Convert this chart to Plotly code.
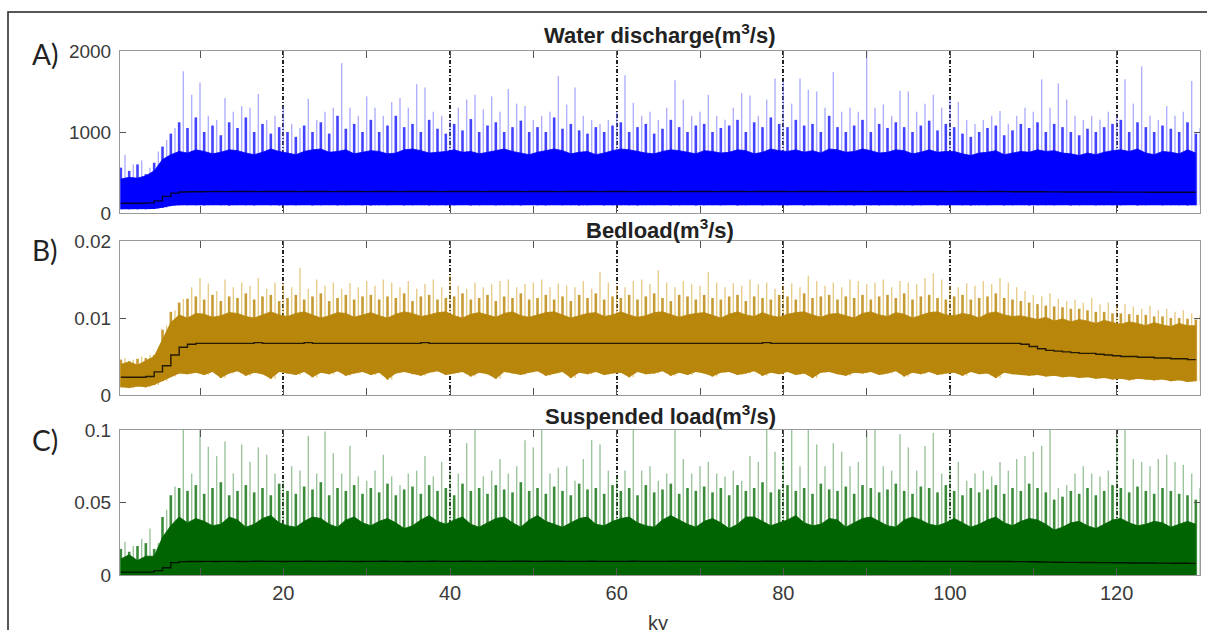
import plotly.graph_objects as go

# ---------------- data (one value per ky bin) ----------------
ky = [k + 0.5 for k in range(130)]          # bin centres, ky

A_peak = [720, 600, 650, 560, 760, 900, 1050, 1750, 1460, 1610,
          1200, 1150, 1420, 1250, 1320, 1300, 1470, 1150, 1200, 1320,
          1100, 1050, 1410, 1150, 1250, 1300, 1850, 1300, 1200, 1440,
          1300, 1200, 1370, 1420, 1300, 1590, 1550, 1250, 1200, 1150,
          1300, 1400, 1460, 1280, 1440, 1250, 1530, 1350, 1320, 1150,
          1200, 1250, 1690, 1340, 1550, 1200, 1150, 1100, 1150, 1250,
          1700, 1360, 1200, 1250, 1150, 1300, 1640, 1400, 1200, 1250,
          1460, 1200, 1150, 1300, 1480, 1450, 1200, 1400, 1660, 1630,
          1350, 1660, 1520, 1500, 1300, 1740, 1250, 1300, 1250, 2000,
          1300, 1340, 1200, 1510, 1500, 1250, 1350, 1460, 1300, 1410,
          1370, 1150, 1100, 1150, 1200, 1260, 1100, 1200, 1300, 1250,
          1650, 1300, 1600, 1400, 1200, 1150, 1200, 1150, 1250, 1200,
          1650, 1350, 1810, 1200, 1150, 1320, 1200, 1250, 1630, 1050]
A_sub = [560, 520, 600, 480, 620, 820, 980, 1120, 1050, 1180,
         1000, 1080, 960, 1120, 1050, 1180, 1000, 1100, 980, 1060,
         1000, 940, 1080, 1000, 1120, 980, 1200, 1040, 1100, 1000,
         1150, 1000, 1080, 1200, 1060, 1100, 1000, 1150, 1040, 980,
         1100, 1020, 1160, 1000, 1080, 1120, 1000, 1060, 1140, 1000,
         1060, 1000, 1180, 1040, 1100, 1020, 980, 1060, 1000, 1080,
         1120, 1000, 1060, 1100, 980, 1040, 1150, 1060, 1000, 1080,
         1100, 1000, 1050, 1080, 1150, 1000, 1120, 1060, 1180, 1100,
         1060, 1150, 1080, 1100, 1000, 1200, 1060, 1000, 1080, 1150,
         1000, 1100, 1050, 1120, 1060, 1000, 1080, 1140, 1020, 1100,
         1060, 980, 940, 1000, 1050, 1080, 960, 1020, 1100, 1050,
         1120, 1000, 1100, 1060, 1000, 960, 1040, 1000, 1060, 1100,
         1150, 1000, 1120, 1060, 1000, 1080, 1040, 1000, 1120, 980]
A_band = [420, 440, 430, 460, 520, 660, 720, 760, 740, 780,
          760, 730, 750, 780, 770, 740, 720, 750, 790, 760,
          740, 720, 760, 780, 790, 750, 760, 780, 730, 750,
          770, 760, 730, 740, 780, 790, 770, 740, 750, 760,
          780, 750, 760, 730, 750, 770, 790, 760, 740, 720,
          750, 770, 790, 770, 730, 750, 760, 720, 740, 770,
          790, 780, 760, 740, 730, 760, 780, 770, 750, 730,
          770, 760, 740, 750, 780, 770, 730, 750, 790, 770,
          760, 780, 750, 770, 740, 790, 780, 750, 760, 790,
          770, 740, 750, 780, 770, 730, 750, 780, 750, 760,
          760, 730, 710, 740, 750, 770, 720, 740, 760, 750,
          780, 760, 770, 740, 730, 710, 740, 720, 750, 770,
          780, 760, 790, 740, 720, 760, 750, 730, 780, 740]
A_low = [45, 45, 45, 45, 50, 65, 85, 95, 95, 95,
         92, 98, 95, 90, 97, 95, 93, 98, 95, 92,
         96, 94, 98, 92, 95, 97, 93, 95, 98, 94,
         92, 96, 95, 98, 93, 95, 97, 92, 96, 95,
         94, 98, 92, 95, 97, 93, 96, 95, 92, 98,
         95, 93, 97, 94, 96, 92, 95, 98, 93, 95,
         97, 94, 92, 96, 95, 98, 93, 95, 97, 92,
         95, 96, 94, 98, 92, 95, 97, 93, 96, 95,
         94, 98, 92, 95, 97, 93, 96, 95, 92, 98,
         95, 93, 97, 94, 96, 92, 95, 98, 93, 95,
         97, 94, 92, 96, 95, 98, 93, 95, 97, 92,
         95, 96, 94, 98, 92, 95, 97, 93, 96, 95,
         94, 98, 92, 95, 97, 93, 96, 95, 92, 95]
A_mean = [120, 120, 120, 125, 150, 205, 245, 260, 262, 263,
          264, 265, 264, 265, 266, 265, 264, 265, 266, 265,
          265, 264, 265, 266, 265, 264, 265, 266, 265, 264,
          265, 266, 265, 264, 265, 265, 266, 265, 264, 265,
          265, 266, 265, 264, 265, 266, 265, 265, 264, 265,
          266, 265, 264, 265, 265, 266, 265, 264, 265, 266,
          265, 264, 265, 265, 266, 265, 264, 265, 266, 265,
          265, 264, 265, 266, 265, 264, 265, 265, 266, 265,
          264, 265, 266, 265, 265, 264, 265, 266, 265, 264,
          265, 265, 266, 265, 264, 265, 266, 265, 265, 264,
          265, 266, 265, 264, 265, 265, 264, 263, 263, 262,
          262, 261, 261, 260, 260, 260, 259, 259, 259, 258,
          258, 258, 258, 257, 257, 257, 257, 256, 256, 256]

B_peak = [.0048, .0046, .0050, .0052, .0056, .0090, .0110, .0125, .0140, .0152,
          .0145, .0135, .0150, .0140, .0146, .0142, .0152, .0138, .0146, .0145,
          .0140, .0165, .0138, .0150, .0142, .0146, .0138, .0145, .0140, .0148,
          .0142, .0150, .0146, .0140, .0148, .0138, .0144, .0150, .0140, .0156,
          .0142, .0138, .0146, .0140, .0144, .0148, .0150, .0140, .0144, .0146,
          .0150, .0140, .0145, .0142, .0140, .0148, .0138, .0160, .0146, .0142,
          .0140, .0148, .0150, .0144, .0162, .0146, .0140, .0148, .0144, .0142,
          .0160, .0146, .0140, .0145, .0142, .0150, .0144, .0146, .0138, .0142,
          .0145, .0140, .0155, .0148, .0142, .0146, .0140, .0150, .0148, .0144,
          .0146, .0150, .0140, .0148, .0146, .0144, .0152, .0158, .0150, .0142,
          .0140, .0145, .0142, .0148, .0144, .0152, .0146, .0140, .0135, .0130,
          .0128, .0132, .0125, .0122, .0124, .0120, .0126, .0118, .0120, .0116,
          .0118, .0115, .0112, .0116, .0110, .0112, .0108, .0110, .0106, .0104]
B_sub = [.0046, .0044, .0047, .0048, .0052, .0085, .0108, .0120, .0125, .0128,
         .0124, .0130, .0122, .0128, .0126, .0132, .0124, .0128, .0130, .0122,
         .0126, .0130, .0124, .0128, .0132, .0122, .0126, .0130, .0124, .0128,
         .0130, .0124, .0128, .0126, .0132, .0122, .0128, .0130, .0124, .0126,
         .0128, .0132, .0124, .0126, .0130, .0122, .0128, .0126, .0132, .0124,
         .0126, .0130, .0124, .0128, .0122, .0130, .0126, .0132, .0124, .0128,
         .0126, .0130, .0124, .0128, .0132, .0126, .0122, .0130, .0128, .0124,
         .0130, .0126, .0124, .0128, .0130, .0122, .0128, .0126, .0124, .0130,
         .0128, .0124, .0132, .0126, .0128, .0130, .0124, .0128, .0126, .0130,
         .0124, .0128, .0130, .0126, .0132, .0124, .0128, .0130, .0126, .0124,
         .0128, .0130, .0124, .0126, .0128, .0132, .0126, .0124, .0122, .0120,
         .0118, .0116, .0115, .0114, .0112, .0112, .0110, .0108, .0108, .0106,
         .0106, .0105, .0104, .0104, .0102, .0102, .0100, .0100, .0099, .0098]
B_band = [.0040, .0043, .0039, .0044, .0050, .0072, .0094, .0104, .0100, .0106,
          .0105, .0101, .0103, .0107, .0106, .0102, .0100, .0104, .0108, .0104,
          .0102, .0106, .0108, .0104, .0100, .0103, .0107, .0106, .0101, .0104,
          .0107, .0103, .0100, .0105, .0108, .0106, .0102, .0104, .0107, .0108,
          .0103, .0100, .0105, .0107, .0104, .0101, .0106, .0108, .0103, .0101,
          .0104, .0107, .0108, .0104, .0100, .0103, .0106, .0107, .0102, .0104,
          .0108, .0104, .0101, .0103, .0107, .0108, .0105, .0101, .0104, .0106,
          .0107, .0103, .0100, .0105, .0108, .0104, .0102, .0107, .0103, .0101,
          .0105, .0107, .0108, .0104, .0101, .0105, .0106, .0103, .0100, .0106,
          .0108, .0104, .0102, .0107, .0105, .0100, .0103, .0107, .0108, .0104,
          .0103, .0106, .0104, .0100, .0106, .0108, .0104, .0102, .0103, .0100,
          .0098, .0101, .0096, .0099, .0095, .0098, .0096, .0093, .0097, .0094,
          .0092, .0095, .0093, .0090, .0094, .0091, .0089, .0093, .0090, .0090]
B_low = [.0010, .0009, .0011, .0010, .0013, .0018, .0024, .0028, .0027, .0029,
         .0026, .0030, .0022, .0028, .0031, .0025, .0029, .0027, .0021, .0030,
         .0028, .0026, .0030, .0023, .0029, .0027, .0031, .0025, .0028, .0030,
         .0026, .0029, .0020, .0028, .0030, .0027, .0025, .0029, .0031, .0026,
         .0028, .0030, .0024, .0029, .0027, .0021, .0030, .0028, .0026, .0029,
         .0031, .0025, .0028, .0030, .0022, .0029, .0027, .0030, .0026, .0028,
         .0029, .0023, .0030, .0027, .0028, .0031, .0025, .0029, .0026, .0030,
         .0028, .0024, .0029, .0030, .0026, .0028, .0031, .0025, .0029, .0027,
         .0030, .0026, .0028, .0022, .0029, .0030, .0027, .0025, .0029, .0028,
         .0030, .0026, .0028, .0031, .0024, .0029, .0027, .0030, .0026, .0028,
         .0029, .0025, .0030, .0027, .0028, .0022, .0029, .0027, .0026, .0025,
         .0026, .0024, .0025, .0023, .0024, .0022, .0023, .0021, .0022, .0020,
         .0021, .0019, .0021, .0020, .0019, .0020, .0018, .0019, .0017, .0018]
B_mean = [.0023, .0023, .0023, .0024, .0030, .0038, .0052, .0062, .0066, .0067,
          .0067, .0067, .0067, .0067, .0067, .0067, .0068, .0067, .0067, .0067,
          .0067, .0067, .0068, .0067, .0067, .0067, .0067, .0067, .0067, .0067,
          .0067, .0067, .0067, .0067, .0067, .0067, .0068, .0067, .0067, .0067,
          .0067, .0067, .0067, .0067, .0067, .0067, .0067, .0067, .0067, .0067,
          .0067, .0067, .0067, .0067, .0067, .0067, .0067, .0067, .0067, .0067,
          .0067, .0067, .0067, .0067, .0067, .0067, .0067, .0067, .0067, .0067,
          .0067, .0067, .0067, .0067, .0067, .0067, .0067, .0068, .0067, .0067,
          .0067, .0067, .0067, .0067, .0067, .0067, .0067, .0067, .0067, .0067,
          .0067, .0067, .0067, .0067, .0067, .0067, .0067, .0067, .0067, .0067,
          .0067, .0067, .0067, .0067, .0067, .0067, .0067, .0067, .0066, .0063,
          .0060, .0058, .0057, .0056, .0055, .0054, .0054, .0053, .0052, .0051,
          .0050, .0050, .0049, .0049, .0048, .0048, .0047, .0047, .0046, .0046]

C_peak = [.023, .020, .025, .032, .022, .045, .061, .100, .070, .100,
          .0885, .082, .092, .070, .090, .078, .088, .083, .070, .065,
          .075, .072, .096, .070, .099, .084, .070, .089, .068, .065,
          .072, .083, .068, .062, .070, .072, .082, .068, .078, .072,
          .070, .091, .100, .068, .072, .080, .070, .075, .093, .088,
          .100, .070, .074, .075, .065, .080, .093, .090, .072, .068,
          .072, .100, .072, .075, .065, .070, .100, .080, .070, .075,
          .078, .070, .068, .072, .065, .082, .078, .100, .085, .080,
          .100, .075, .100, .090, .075, .091, .085, .075, .078, .099,
          .100, .075, .072, .097, .088, .072, .089, .098, .070, .075,
          .078, .065, .070, .072, .068, .078, .072, .080, .082, .085,
          .089, .100, .060, .062, .070, .075, .070, .068, .072, .100,
          .100, .080, .078, .075, .080, .083, .078, .076, .070, .060]
C_sub = [.018, .016, .020, .022, .018, .040, .055, .060, .058, .062,
         .056, .060, .064, .055, .058, .062, .057, .060, .055, .063,
         .058, .056, .061, .059, .064, .055, .060, .058, .062, .056,
         .060, .057, .063, .055, .059, .061, .056, .062, .058, .060,
         .055, .063, .058, .060, .056, .062, .059, .057, .064, .058,
         .060, .056, .061, .058, .055, .063, .059, .060, .056, .062,
         .058, .060, .055, .062, .057, .059, .063, .056, .060, .058,
         .061, .057, .060, .055, .062, .058, .060, .064, .057, .059,
         .062, .058, .060, .056, .063, .059, .058, .061, .056, .062,
         .060, .057, .059, .063, .058, .056, .061, .060, .057, .062,
         .058, .055, .060, .057, .059, .062, .056, .060, .058, .063,
         .060, .057, .052, .054, .058, .056, .060, .055, .058, .062,
         .060, .057, .061, .058, .056, .060, .058, .056, .055, .052]
C_band = [.011, .014, .010, .013, .013, .026, .034, .040, .036, .039,
          .037, .034, .035, .040, .038, .033, .035, .039, .041, .036,
          .034, .033, .037, .040, .039, .035, .033, .038, .040, .036,
          .034, .037, .039, .036, .032, .034, .038, .041, .037, .035,
          .038, .040, .035, .033, .036, .039, .040, .036, .033, .038,
          .041, .037, .035, .033, .036, .039, .040, .035, .034, .037,
          .039, .040, .036, .034, .033, .038, .041, .038, .035, .033,
          .037, .039, .036, .032, .035, .040, .040, .037, .034, .036,
          .038, .041, .036, .034, .035, .039, .038, .033, .036, .039,
          .040, .037, .034, .033, .038, .040, .038, .035, .034, .036,
          .039, .036, .033, .035, .038, .040, .036, .034, .037, .039,
          .038, .035, .031, .033, .036, .037, .034, .032, .035, .038,
          .039, .036, .034, .035, .037, .036, .033, .035, .037, .035]
C_mean = [.002, .002, .002, .002, .003, .005, .0085, .0092, .0093, .0093,
          .0094, .0093, .0094, .0094, .0093, .0094, .0095, .0094, .0094, .0093,
          .0094, .0094, .0095, .0094, .0094, .0095, .0094, .0094, .0093, .0094,
          .0094, .0095, .0094, .0094, .0093, .0094, .0094, .0095, .0094, .0094,
          .0094, .0095, .0094, .0094, .0095, .0094, .0094, .0095, .0095, .0094,
          .0094, .0095, .0095, .0094, .0094, .0094, .0095, .0094, .0094, .0094,
          .0094, .0095, .0094, .0094, .0094, .0094, .0095, .0094, .0094, .0094,
          .0094, .0094, .0095, .0095, .0094, .0094, .0094, .0095, .0095, .0095,
          .0095, .0095, .0095, .0094, .0095, .0095, .0095, .0094, .0095, .0095,
          .0095, .0095, .0094, .0094, .0094, .0095, .0094, .0094, .0094, .0094,
          .0094, .0094, .0093, .0093, .0093, .0093, .0093, .0092, .0092, .0091,
          .0090, .0089, .0088, .0087, .0087, .0086, .0086, .0085, .0085, .0084,
          .0084, .0083, .0083, .0083, .0082, .0082, .0081, .0081, .0080, .0080]

panel_titles = ["Water discharge(m<sup>3</sup>/s)", "Bedload(m<sup>3</sup>/s)",
                "Suspended load(m<sup>3</sup>/s)"]
panel_letters = ["A)", "B)", "C)"]
y_ticks = [[0, 1000, 2000], [0, 0.01, 0.02], [0, 0.05, 0.1]]
y_ticktext = [["0", "1000", "2000"], ["0", "0.01", "0.02"], ["0", "0.05", "0.1"]]
x_ticks = [20, 40, 60, 80, 100, 120]
x_minor = [10, 30, 50, 70, 90, 110, 130]

# ---------------- styling ----------------
W, H = 1207, 630
x_dom = [120 / W, 1200 / W]
panels_px = [(51, 213), (241, 395), (430, 575)]     # top, bottom in pixels
y_doms = [[1 - b / H, 1 - t / H] for t, b in panels_px]
fill_cols = ["#0000ff", "#b8860b", "#006400"]
sub_cols = ["rgba(20,20,255,0.8)", "rgba(188,138,15,0.85)", "rgba(10,110,10,0.8)"]
peak_cols = ["rgba(110,110,255,0.55)", "rgba(215,170,60,0.6)", "rgba(60,140,60,0.5)"]


def spikes(xs, lo, hi, dx=0.0):
    X, Y = [], []
    for x, l, h in zip(xs, lo, hi):
        X += [x + dx, x + dx, None]
        Y += [l, h, None]
    return X, Y


fig = go.Figure()
series = [(A_low, A_band, A_sub, A_peak, A_mean),
          (B_low, B_band, B_sub, B_peak, B_mean),
          (None, C_band, C_sub, C_peak, C_mean)]

for i, (low, band, sub, peak, mean) in enumerate(series):
    xa = "x" if i == 0 else f"x{i + 1}"
    ya = "y" if i == 0 else f"y{i + 1}"
    base = low if low is not None else [0] * len(ky)
    X, Y = spikes(ky, base, peak, 0.5)
    fig.add_trace(go.Scatter(x=X, y=Y, mode="lines", line=dict(color=peak_cols[i], width=1.4),
                             xaxis=xa, yaxis=ya, hoverinfo="skip", showlegend=False))
    X, Y = spikes(ky, base, sub, 0.0)
    fig.add_trace(go.Scatter(x=X, y=Y, mode="lines", line=dict(color=sub_cols[i], width=2.6),
                             xaxis=xa, yaxis=ya, hoverinfo="skip", showlegend=False))
    if low is not None:
        fig.add_trace(go.Scatter(x=ky, y=low, mode="lines", line=dict(width=0, color=fill_cols[i]),
                                 xaxis=xa, yaxis=ya, hoverinfo="skip", showlegend=False))
        fig.add_trace(go.Scatter(x=ky, y=band, mode="lines", fill="tonexty", fillcolor=fill_cols[i],
                                 line=dict(width=0.8, color=fill_cols[i]),
                                 xaxis=xa, yaxis=ya, hoverinfo="skip", showlegend=False))
    else:
        fig.add_trace(go.Scatter(x=ky, y=band, mode="lines", fill="tozeroy", fillcolor=fill_cols[i],
                                 line=dict(width=0.8, color=fill_cols[i]),
                                 xaxis=xa, yaxis=ya, hoverinfo="skip", showlegend=False))
    fig.add_trace(go.Scatter(x=ky, y=mean, mode="lines",
                             line=dict(color="rgba(0,0,0,0.8)", width=1.4, shape="hv"),
                             xaxis=xa, yaxis=ya, hoverinfo="skip", showlegend=False))

layout = dict(width=W, height=H, margin=dict(l=0, r=0, t=0, b=0, autoexpand=False),
              paper_bgcolor="white", plot_bgcolor="white", showlegend=False)

axis_font = dict(family="Liberation Sans, Arial, sans-serif", size=19, color="#3a3a3a")
for i in range(3):
    xk = "xaxis" if i == 0 else f"xaxis{i + 1}"
    yk = "yaxis" if i == 0 else f"yaxis{i + 1}"
    ya = "y" if i == 0 else f"y{i + 1}"
    xa = "x" if i == 0 else f"x{i + 1}"
    layout[xk] = dict(domain=x_dom, anchor=ya, range=[0.4, 130], tickmode="array",
                      tickvals=x_ticks, ticktext=[str(v) for v in x_ticks],
                      showticklabels=(i == 2), ticks="inside", ticklen=7, tickcolor="#555",
                      showline=True, linecolor="#999", linewidth=1, mirror="ticks",
                      showgrid=True, gridcolor="#222", griddash="4px,2px,1px,2px", gridwidth=1.5,
                      minor=dict(tickvals=x_minor, ticks="inside",
                                 ticklen=7, tickcolor="#555", showgrid=False),
                      zeroline=False, automargin=False,
                      tickfont=dict(family="Liberation Sans, Arial, sans-serif", size=20,
                                    color="#3a3a3a"),
                      layer="above traces")
    layout[yk] = dict(domain=y_doms[i], anchor=xa, range=[y_ticks[i][0], y_ticks[i][-1]],
                      tickmode="array", tickvals=y_ticks[i], ticktext=y_ticktext[i],
                      ticks="inside", ticklen=6, tickcolor="#555",
                      showline=True, linecolor="#999", linewidth=1, mirror="ticks",
                      showgrid=False, zeroline=False, automargin=False, tickfont=axis_font,
                      ticklabelstandoff=4, layer="above traces")

fig.update_layout(**layout)

title_y = [34, 229, 415]
letter_y = [54, 250, 440]
ann = []
for i in range(3):
    ann.append(dict(text=f"<b>{panel_titles[i]}</b>", x=660 / W, y=1 - title_y[i] / H,
                    xref="paper", yref="paper", showarrow=False, xanchor="center", yanchor="middle",
                    font=dict(family="Liberation Sans, Arial, sans-serif", size=22, color="#222")))
    ann.append(dict(text=panel_letters[i], x=30 / W, y=1 - letter_y[i] / H, xref="paper", yref="paper",
                    showarrow=False, xanchor="left", yanchor="middle",
                    font=dict(family="Lato, Open Sans, sans-serif", size=28, color="#222")))
ann.append(dict(text="ky", x=658 / W, y=1 - 610 / H, xref="paper", yref="paper", showarrow=False,
                xanchor="center", yanchor="top",
                font=dict(family="Liberation Sans, Arial, sans-serif", size=20, color="#3a3a3a")))
fig.update_layout(annotations=ann)

fig.add_shape(type="rect", xref="paper", yref="paper", x0=8 / W, x1=1.01, y0=-0.05, y1=1 - 12 / H,
              line=dict(color="#222", width=1.5), fillcolor="rgba(0,0,0,0)")

fig.write_html("out.html")
